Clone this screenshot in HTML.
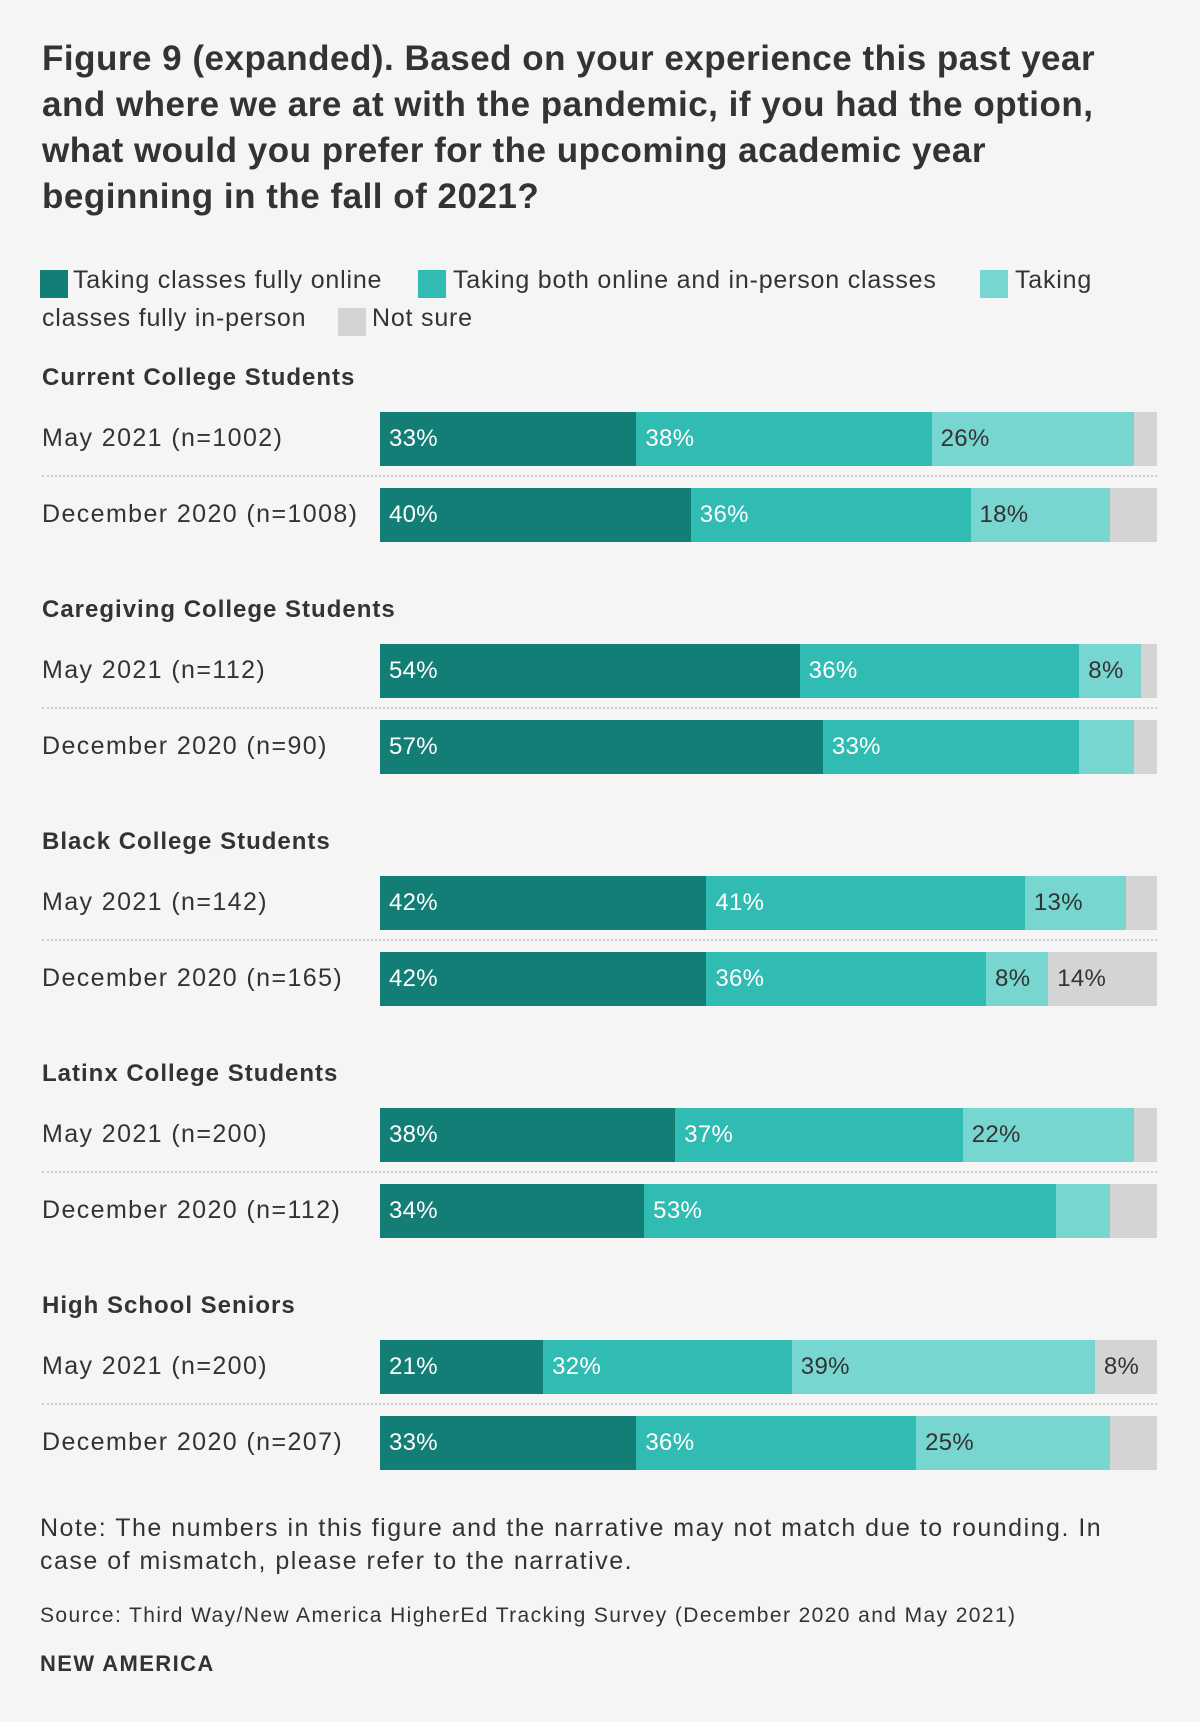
<!DOCTYPE html>
<html><head><meta charset="utf-8">
<style>
body{margin:0;background:#f5f5f5;}
#root{position:relative;width:1200px;height:1722px;background:#f5f5f5;font-family:"Liberation Sans",sans-serif;color:#333;overflow:hidden;}
.t{position:absolute;white-space:nowrap;}
.title{font-weight:bold;font-size:35px;letter-spacing:0.5px;left:42px;color:#333;}
.leg{font-size:25px;letter-spacing:0.8px;}
.sw{position:absolute;width:28px;height:28px;}
.head{font-weight:bold;font-size:24px;letter-spacing:1px;left:42px;}
.rl{font-size:25px;letter-spacing:1.4px;left:42px;}
.seg{position:absolute;}
.vl{position:absolute;font-size:24px;letter-spacing:0.3px;line-height:54px;top:0;}
.sep{position:absolute;left:42px;width:1115px;border-top:2px dotted #ccc;height:0;}
</style></head><body>
<div id="root">
<div class="t title" style="top:39px">Figure 9 (expanded). Based on your experience this past year</div>
<div class="t title" style="top:85px">and where we are at with the pandemic, if you had the option,</div>
<div class="t title" style="top:131px">what would you prefer for the upcoming academic year</div>
<div class="t title" style="top:177px">beginning in the fall of 2021?</div>

<div class="sw" style="left:40px;top:270px;background:#127e75"></div>
<div class="t leg" style="left:73px;top:266px">Taking classes fully online</div>
<div class="sw" style="left:418px;top:270px;background:#30bcb3"></div>
<div class="t leg" style="left:453px;top:266px">Taking both online and in-person classes</div>
<div class="sw" style="left:980px;top:270px;background:#77d6d0"></div>
<div class="t leg" style="left:1015px;top:266px">Taking</div>
<div class="t leg" style="left:42px;top:304px">classes fully in-person</div>
<div class="sw" style="left:338px;top:308px;background:#d4d4d4"></div>
<div class="t leg" style="left:372px;top:304px">Not sure</div>

<div id="bars"></div>

<div class="t" style="left:40px;top:1512px;font-size:25px;letter-spacing:1.5px;line-height:33px">Note: The numbers in this figure and the narrative may not match due to rounding. In<br>case of mismatch, please refer to the narrative.</div>
<div class="t" style="left:40px;top:1604px;font-size:21px;letter-spacing:1.4px">Source: Third Way/New America HigherEd Tracking Survey (December 2020 and May 2021)</div>
<div class="t" style="left:40px;top:1651px;font-size:22px;letter-spacing:1.4px;font-weight:bold">NEW AMERICA</div>
</div>
<script>
const groups = ["Current College Students","Caregiving College Students","Black College Students","Latinx College Students","High School Seniors"];
const rowLabels = [["May 2021 (n=1002)","December 2020 (n=1008)"],["May 2021 (n=112)","December 2020 (n=90)"],["May 2021 (n=142)","December 2020 (n=165)"],["May 2021 (n=200)","December 2020 (n=112)"],["May 2021 (n=200)","December 2020 (n=207)"]];
const fullyOnline = [[33,40],[54,57],[42,42],[38,34],[21,33]];
const hybrid = [[38,36],[36,33],[41,36],[37,53],[32,36]];
const inPerson = [[26,18],[8,7],[13,8],[22,7],[39,25]];
const notSure = [[3,6],[2,3],[4,14],[3,6],[8,6]];

const series=[fullyOnline,hybrid,inPerson,notSure];
const colors=["#127e75","#30bcb3","#77d6d0","#d4d4d4"];
const txtCol=["#fff","#fff","#333","#333"];
const segNames=["fully-online","hybrid","in-person","not-sure"];
const X0=380, W=777, BH=54;
const x=v=>v/100*W;
const host=document.getElementById('bars');
function mk(cls,style){const d=document.createElement('div');d.className=cls;d.style.cssText=style;return d;}
groups.forEach((g,gi)=>{
  const gy=364+gi*232;
  const h=mk('t head','top:'+gy+'px');h.textContent=g;
  
  
  host.appendChild(h);
  const sp=mk('sep','top:'+(gy+111)+'px');
  
  
  host.appendChild(sp);
  for(let r=0;r<2;r++){
    const by=gy+48+r*76;
    const l=mk('t rl','top:'+(by+12)+'px');l.textContent=rowLabels[gi][r];
    
    
    host.appendChild(l);
    let acc=0;
    series.forEach((s,si)=>{
      const v=s[gi][r];
      const seg=mk('seg','left:'+(X0+x(acc))+'px;top:'+by+'px;width:'+x(v)+'px;height:'+BH+'px;background:'+colors[si]);
      
      
      if(v>=8){
        const t=mk('vl','left:9px;color:'+txtCol[si]);t.textContent=v+'%';
        
        
        seg.appendChild(t);
      }
      host.appendChild(seg);
      acc+=v;
    });
  }
});
</script>
</body></html>
